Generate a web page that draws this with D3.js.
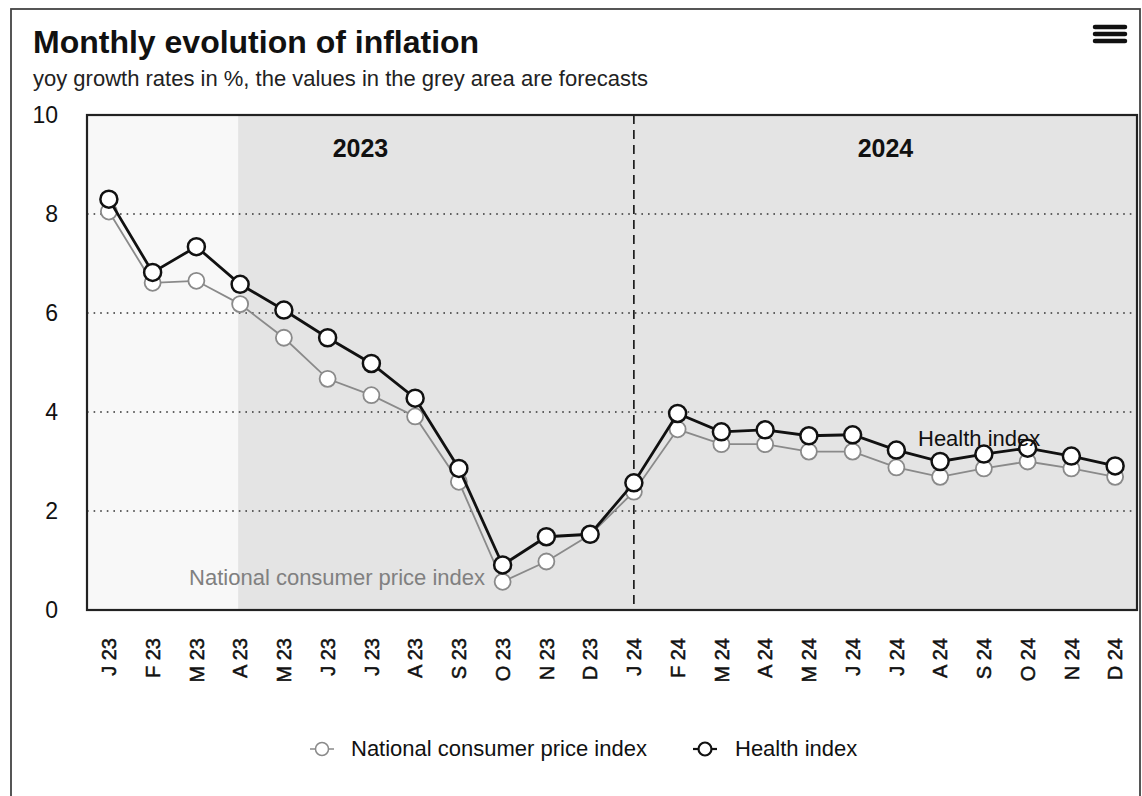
<!DOCTYPE html>
<html><head><meta charset="utf-8">
<script src="https://cdn.jsdelivr.net/npm/d3@7"></script>
<style>
html,body{margin:0;padding:0;background:#fff;}
svg{display:block;font-family:"Liberation Sans",Arial,sans-serif;}
</style></head>
<body><svg id="chart" width="1142" height="796"></svg>
<script>
const categories = ["J 23","F 23","M 23","A 23","M 23 ","J 23 ","J 23  ","A 23 ","S 23","O 23","N 23","D 23",
                    "J 24","F 24","M 24","A 24","M 24 ","J 24 ","J 24  ","A 24 ","S 24","O 24","N 24","D 24"];
const cpiValues = [8.05,6.61,6.65,6.18,5.50,4.67,4.34,3.91,2.59,0.57,0.98,1.52,
                   2.39,3.65,3.35,3.35,3.20,3.20,2.88,2.69,2.86,3.00,2.86,2.69];
const healthValues = [8.30,6.82,7.34,6.58,6.06,5.50,4.98,4.28,2.86,0.91,1.48,1.53,
                      2.57,3.97,3.60,3.64,3.52,3.54,3.23,3.00,3.15,3.27,3.11,2.91];
const yTicks = [0,2,4,6,8,10];
const gridValues = [2,4,6,8];
const yearLabels = ["2023","2024"];
const forecastStart = "A 23";
const yearBreak = "J 24";
const seriesNames = ["National consumer price index","Health index"];

const svg = d3.select("#chart");
const L = 87, R = 1137, T = 115, B = 610;

// outer border
svg.append("rect").attr("x",11).attr("y",9).attr("width",1129).attr("height",800)
  .attr("fill","#fff").attr("stroke","#444").attr("stroke-width",1.8);

svg.append("text").attr("x",33).attr("y",53).attr("font-size",32).attr("font-weight","bold")
  .attr("fill","#111").text("Monthly evolution of inflation");
svg.append("text").attr("x",33).attr("y",86).attr("font-size",22)
  .attr("fill","#222").text("yoy growth rates in %, the values in the grey area are forecasts");

// menu icon
[0,1,2].forEach(i=>{
  svg.append("line").attr("x1",1095).attr("x2",1125).attr("y1",27+i*7).attr("y2",27+i*7)
    .attr("stroke","#111").attr("stroke-width",4.5).attr("stroke-linecap","round");
});

const x = d3.scaleBand().domain(categories).range([L,R]);
const bw = x.bandwidth();
const cx = c => x(c) + bw/2;
const y = d3.scaleLinear().domain([0,10]).range([B,T]);

// plot background
svg.append("rect").attr("x",L).attr("y",T).attr("width",R-L).attr("height",B-T).attr("fill","#f8f8f8");
svg.append("rect").attr("x",cx(forecastStart)-2).attr("y",T).attr("width",R-(cx(forecastStart)-2)).attr("height",B-T).attr("fill","#e4e4e4");

// grid
svg.append("g").selectAll("line").data(gridValues).join("line")
  .attr("x1",L).attr("x2",R).attr("y1",d=>y(d)).attr("y2",d=>y(d))
  .attr("stroke","#333").attr("stroke-width",1.6).attr("stroke-dasharray","1.6,5");

// year break
const xb = x(yearBreak)+bw/2;
svg.append("line").attr("x1",xb).attr("x2",xb).attr("y1",T).attr("y2",B)
  .attr("stroke","#111").attr("stroke-width",1.6).attr("stroke-dasharray","9,6");

// year labels
const spans = [[L,xb],[xb,R]];
svg.append("g").selectAll("text").data(yearLabels).join("text")
  .attr("x",(d,i)=>(spans[i][0]+spans[i][1])/2).attr("y",157)
  .attr("text-anchor","middle").attr("font-size",25).attr("font-weight","bold").attr("fill","#111").text(d=>d);

// y axis
const yAxis = svg.append("g").attr("transform",`translate(${L},0)`)
  .call(d3.axisLeft(y).tickValues(yTicks).tickSize(0).tickPadding(29).tickFormat(d3.format("d")));
yAxis.select(".domain").remove();
yAxis.selectAll("text").attr("font-size",23).attr("fill","#111").attr("font-family","Liberation Sans, Arial, sans-serif");

// x axis
const xAxis = svg.append("g").attr("transform",`translate(0,${B})`)
  .call(d3.axisBottom(x).tickSize(0).tickFormat(d=>d.trim()));
xAxis.select(".domain").remove();
xAxis.selectAll("text")
  .attr("transform","rotate(-90)").attr("text-anchor","end")
  .attr("x",-28).attr("y",0).attr("dy","0.36em")
  .attr("font-size",20).attr("fill","#111").attr("stroke","#111").attr("stroke-width",0.5)
  .attr("font-family","Liberation Sans, Arial, sans-serif");

// plot border
svg.append("rect").attr("x",L).attr("y",T).attr("width",R-L).attr("height",B-T)
  .attr("fill","none").attr("stroke","#222").attr("stroke-width",2.2);

const line = d3.line().x((d,i)=>cx(categories[i])).y(d=>y(d));

// CPI series
svg.append("path").datum(cpiValues).attr("d",line).attr("fill","none")
  .attr("stroke","#8a8a8a").attr("stroke-width",1.8);
svg.append("g").selectAll("circle").data(cpiValues).join("circle")
  .attr("cx",(d,i)=>cx(categories[i])).attr("cy",d=>y(d)).attr("r",8)
  .attr("fill","#fff").attr("stroke","#8a8a8a").attr("stroke-width",1.8);

// Health series
svg.append("path").datum(healthValues).attr("d",line).attr("fill","none")
  .attr("stroke","#111").attr("stroke-width",2.8);
svg.append("g").selectAll("circle").data(healthValues).join("circle")
  .attr("cx",(d,i)=>cx(categories[i])).attr("cy",d=>y(d)).attr("r",8.5)
  .attr("fill","#fff").attr("stroke","#111").attr("stroke-width",2.5);

// series labels
svg.append("text").attr("x",485).attr("y",585).attr("text-anchor","end").attr("font-size",22)
  .attr("fill","#808080").text(seriesNames[0]);
svg.append("text").attr("x",918).attr("y",446).attr("font-size",22)
  .attr("fill","#111").text(seriesNames[1]);

// legend
const legend = [{name:seriesNames[0],sx:322,tx:351,col:"#8a8a8a",w:1.5},
                {name:seriesNames[1],sx:705,tx:735,col:"#111",w:2.2}];
const lg = svg.append("g").selectAll("g").data(legend).join("g");
lg.append("line").attr("x1",d=>d.sx-12).attr("x2",d=>d.sx+12).attr("y1",749).attr("y2",749)
  .attr("stroke",d=>d.col).attr("stroke-width",d=>d.w);
lg.append("circle").attr("cx",d=>d.sx).attr("cy",749).attr("r",6.5)
  .attr("fill","#fff").attr("stroke",d=>d.col).attr("stroke-width",d=>d.w);
lg.append("text").attr("x",d=>d.tx).attr("y",756).attr("font-size",22).attr("fill","#111").text(d=>d.name);
</script></body></html>
